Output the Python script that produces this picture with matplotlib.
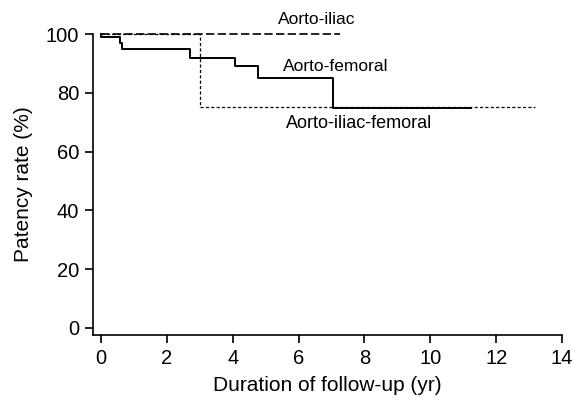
import matplotlib
matplotlib.use("Agg")
import matplotlib.pyplot as plt

plt.rcParams['font.family'] = ['Liberation Sans', 'DejaVu Sans']

# Aorto-femoral (solid)
af_t = [0, 0, 0.58, 0.63, 2.71, 4.07, 4.78, 7.06, 11.25]
af_s = [100, 99.0, 97.0, 94.8, 91.8, 89.1, 85.1, 74.9, 74.9]
# Aorto-iliac (dashed)
ai_t = [0, 7.27]
ai_s = [100, 100]
# Aorto-iliac-femoral (dotted)
aif_t = [0, 3.02, 13.17]
aif_s = [100, 75.2, 75.2]

x_ticks = [0, 2, 4, 6, 8, 10, 12, 14]
y_ticks = [0, 20, 40, 60, 80, 100]

fig = plt.figure(figsize=(5.73, 4.05), dpi=100)
ax = fig.add_axes([93/573, 1-335/405, (562-93)/573, (335-34)/405])

ax.step(aif_t, aif_s, where='post', color='black', lw=0.9, dashes=(2.5, 1.8), clip_on=False)
ax.step(ai_t, ai_s, where='post', color='black', lw=1.2, dashes=(5.0, 2.0), clip_on=False)
ax.step(af_t, af_s, where='post', color='black', lw=1.4, clip_on=False)

ax.set_xlim(-0.24, 14)
ax.set_ylim(-2.4, 100)
ax.set_xticks(x_ticks)
ax.set_yticks(y_ticks)
for s in ['top', 'right']:
    ax.spines[s].set_visible(False)
for s in ['left', 'bottom']:
    ax.spines[s].set_linewidth(1.2)
ax.tick_params(axis='both', length=6, width=1.2, labelsize=14.5, pad=4)

ax.set_xlabel('Duration of follow-up (yr)', fontsize=15, labelpad=6)
ax.set_ylabel('Patency rate (%)', fontsize=15, labelpad=9)

ax.text(6.55, 104.8, 'Aorto-iliac', ha='center', va='center', fontsize=12.5, clip_on=False)
ax.text(7.12, 88.8, 'Aorto-femoral', ha='center', va='center', fontsize=12.5)
ax.text(7.84, 69.7, 'Aorto-iliac-femoral', ha='center', va='center', fontsize=13)

fig.savefig('out.png', dpi=100)
